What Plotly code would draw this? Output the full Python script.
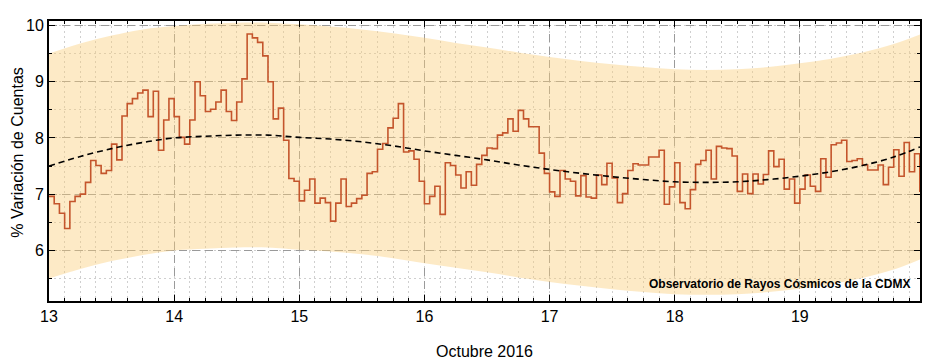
import plotly.graph_objects as go

# Hourly % count variation, 13-19 Oct 2016 (24 values per day)
day13 = [6.96, 6.83, 6.66, 6.39, 6.87, 6.96, 7.00, 7.21, 7.60, 7.51, 7.37, 7.42,
         7.89, 7.61, 8.39, 8.61, 8.70, 8.80, 8.85, 8.38, 8.83, 7.78, 8.32, 8.70]
day14 = [8.38, 8.01, 7.89, 8.32, 9.00, 8.75, 8.47, 8.51, 8.64, 8.85, 8.47, 8.31,
         8.64, 9.05, 9.85, 9.78, 9.70, 9.46, 9.00, 8.34, 8.53, 7.96, 7.28, 7.23]
day15 = [6.88, 7.07, 7.27, 6.84, 6.93, 6.85, 6.52, 6.84, 7.27, 6.78, 6.84, 6.92,
         6.98, 7.37, 7.40, 7.80, 7.90, 8.18, 8.35, 8.61, 7.75, 7.77, 7.62, 7.23]
day16 = [6.83, 6.96, 7.14, 6.64, 7.56, 7.51, 7.34, 7.11, 7.40, 7.16, 7.53, 7.69,
         7.82, 7.81, 8.05, 8.09, 8.34, 8.12, 8.49, 8.34, 8.20, 8.20, 7.73, 7.37]
day17 = [7.04, 6.96, 7.42, 7.27, 7.23, 6.97, 7.33, 6.95, 6.93, 7.34, 7.17, 7.55,
         7.29, 6.85, 7.01, 7.42, 7.54, 7.52, 7.52, 7.66, 7.66, 7.78, 6.82, 7.13]
day18 = [7.56, 6.85, 6.74, 7.08, 7.53, 7.60, 7.78, 7.27, 7.85, 7.82, 7.81, 7.68,
         7.05, 7.36, 7.01, 7.36, 7.18, 7.35, 7.77, 7.49, 7.62, 7.09, 7.27, 6.84]
day19 = [7.09, 7.34, 7.14, 7.05, 7.63, 7.30, 7.88, 7.91, 7.96, 7.58, 7.60, 7.63,
         7.52, 7.43, 7.43, 7.52, 7.17, 7.48, 7.79, 7.32, 7.92, 7.40, 7.72, 7.04]
day_starts = [13, 14, 15, 16, 17, 18, 19]
hours = list(range(24))

# Smooth trend and confidence band
trend_x = [13.0, 13.25, 13.5, 13.75, 14.0, 14.25, 14.5, 14.75, 15.0, 15.25, 15.5,
           15.75, 16.0, 16.25, 16.5, 16.75, 17.0, 17.25, 17.5, 17.75, 18.0, 18.25,
           18.5, 18.75, 19.0, 19.25, 19.5, 19.75, 19.96]
trend_y = [7.50, 7.67, 7.81, 7.92, 8.00, 8.03, 8.05, 8.05, 8.01, 7.98, 7.93, 7.86,
           7.77, 7.69, 7.61, 7.52, 7.44, 7.37, 7.31, 7.26, 7.22, 7.21, 7.22, 7.26,
           7.32, 7.40, 7.51, 7.66, 7.84]
band_upper = [9.50, 9.68, 9.82, 9.93, 9.99, 10.03, 10.05, 10.05, 10.02, 9.98, 9.93,
              9.86, 9.78, 9.69, 9.61, 9.52, 9.44, 9.37, 9.31, 9.26, 9.22, 9.21,
              9.22, 9.26, 9.33, 9.41, 9.52, 9.67, 9.84]
band_lower = [5.50, 5.67, 5.81, 5.92, 6.00, 6.03, 6.05, 6.05, 6.01, 5.98, 5.93,
              5.86, 5.77, 5.69, 5.61, 5.52, 5.44, 5.37, 5.31, 5.26, 5.22, 5.21,
              5.22, 5.26, 5.32, 5.40, 5.51, 5.66, 5.84]

x_ticks = [13, 14, 15, 16, 17, 18, 19]
y_ticks = [6, 7, 8, 9, 10]

days = [day13, day14, day15, day16, day17, day18, day19]
xs, ys = [], []
for d0, vals in zip(day_starts, days):
    for h, v in zip(hours, vals):
        xs.append(d0 + h / 24)
        ys.append(v)

fig = go.Figure()
fig.add_trace(go.Scatter(x=trend_x, y=band_lower, mode="lines", line=dict(width=0, shape="spline"),
                         showlegend=False, hoverinfo="skip"))
fig.add_trace(go.Scatter(x=trend_x, y=band_upper, mode="lines", line=dict(width=0, shape="spline"),
                         fill="tonexty", fillcolor="rgba(250,206,120,0.42)",
                         showlegend=False, hoverinfo="skip"))
fig.add_trace(go.Scatter(x=xs, y=ys, mode="lines", line=dict(color="#c4552c", width=1.6, shape="hv"),
                         showlegend=False))
fig.add_trace(go.Scatter(x=trend_x, y=trend_y, mode="lines",
                         line=dict(color="black", width=1.6, dash="6px,4px", shape="spline"),
                         showlegend=False))

font = dict(family="Liberation Sans, Arial, sans-serif", size=16, color="black")
common = dict(showline=True, linecolor="black", linewidth=2, mirror="allticks",
              ticks="inside", ticklen=6, tickcolor="black", tickwidth=1,
              showgrid=True, gridcolor="#9a9a9a", gridwidth=1, griddash="8px,5px",
              zeroline=False, tickfont=font, automargin=False)
fig.update_xaxes(range=[13, 19.96], tickvals=x_ticks, ticktext=[str(t) for t in x_ticks],
                 minor=dict(dtick=0.125, tick0=13, ticks="inside", ticklen=3, tickcolor="black",
                            showgrid=True, gridcolor="#cfcfcf", griddash="2px,3px"),
                 **common)
fig.update_yaxes(range=[5.1, 10.08], tickvals=y_ticks, ticktext=[str(t) for t in y_ticks],
                 minor=dict(dtick=0.5, tick0=5, ticks="inside", ticklen=3, tickcolor="black",
                            showgrid=True, gridcolor="#cfcfcf", griddash="2px,3px"),
                 **common)
fig.add_annotation(text="Octubre 2016", xref="paper", yref="paper", x=0.5, y=-0.182,
                   xanchor="center", yanchor="middle", showarrow=False, font=font)
fig.add_annotation(text="% Variación de Cuentas", xref="paper", yref="paper", x=-0.0355, y=0.53,
                   xanchor="center", yanchor="middle", textangle=-90, showarrow=False, font=font)
fig.add_annotation(text="<b>Observatorio de Rayos Cósmicos de la CDMX</b>", xref="paper", yref="paper",
                   x=0.991, y=0.06, xanchor="right", yanchor="middle", showarrow=False,
                   font=dict(family="Liberation Sans, Arial, sans-serif", size=12, color="black"))
fig.update_layout(width=924, height=355, margin=dict(l=41, r=12, t=13, b=62),
                  paper_bgcolor="white", plot_bgcolor="white", font=font)
fig.write_html("out.html")
